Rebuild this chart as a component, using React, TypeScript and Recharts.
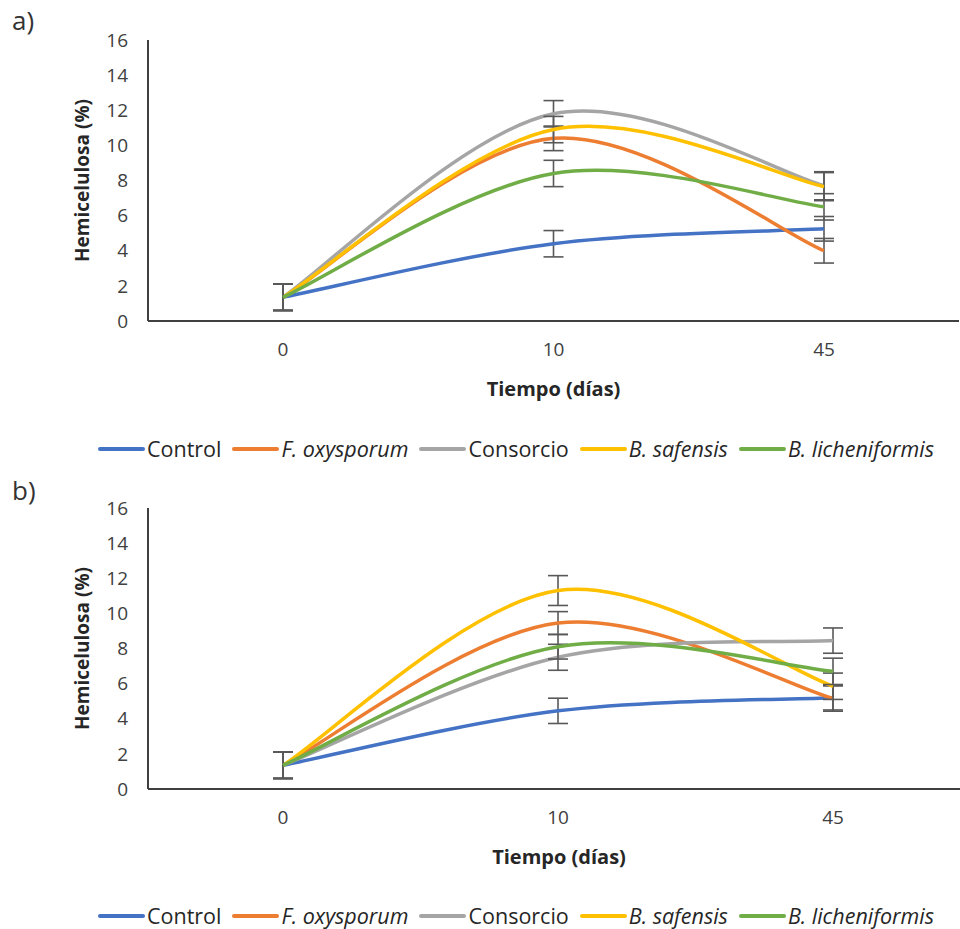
import React from 'react';
import { LineChart, Line, XAxis, YAxis, ErrorBar, Label } from 'recharts';

// tiempos (días)
const dias = ['0', '10', '45'];
const yTicks = [0, 2, 4, 6, 8, 10, 12, 14, 16];

// a)
const controlA = [1.35, 4.4, 5.25];
const foxyA = [1.35, 10.4, 4.0];
const consorcioA = [1.35, 11.8, 7.7];
const safensisA = [1.35, 10.9, 7.65];
const licheniA = [1.35, 8.4, 6.5];
const errControlA = [0.75, 0.75, 0.7];
const errFoxyA = [0.75, 0.7, 0.7];
const errConsorcioA = [0.75, 0.75, 0.8];
const errSafensisA = [0.75, 0.75, 0.8];
const errLicheniA = [0.75, 0.75, 0.75];

// b)
const controlB = [1.35, 4.45, 5.2];
const foxyB = [1.35, 9.45, 5.15];
const consorcioB = [1.35, 7.5, 8.45];
const safensisB = [1.35, 11.3, 5.85];
const licheniB = [1.35, 8.1, 6.7];
const errControlB = [0.75, 0.72, 0.7];
const errFoxyB = [0.75, 0.65, 0.72];
const errConsorcioB = [0.75, 0.74, 0.72];
const errSafensisB = [0.75, 0.85, 0.75];
const errLicheniB = [0.75, 0.7, 0.75];

const series = [
  { key: 'control', name: 'Control', color: '#4472C4', italic: false },
  { key: 'foxy', name: 'F. oxysporum', color: '#ED7D31', italic: true },
  { key: 'consorcio', name: 'Consorcio', color: '#A5A5A5', italic: false },
  { key: 'safensis', name: 'B. safensis', color: '#FFC000', italic: true },
  { key: 'licheni', name: 'B. licheniformis', color: '#70AD47', italic: true },
];

const dataA = dias.map((d, i) => ({
  dia: d,
  control: controlA[i], foxy: foxyA[i], consorcio: consorcioA[i], safensis: safensisA[i], licheni: licheniA[i],
  e_control: errControlA[i], e_foxy: errFoxyA[i], e_consorcio: errConsorcioA[i], e_safensis: errSafensisA[i], e_licheni: errLicheniA[i],
}));

const dataB = dias.map((d, i) => ({
  dia: d,
  control: controlB[i], foxy: foxyB[i], consorcio: consorcioB[i], safensis: safensisB[i], licheni: licheniB[i],
  e_control: errControlB[i], e_foxy: errFoxyB[i], e_consorcio: errConsorcioB[i], e_safensis: errSafensisB[i], e_licheni: errLicheniB[i],
}));

// excel-like smoothed line (catmull-rom style bezier)
function excelCurve(context: any) {
  let pts: number[][] = [];
  return {
    areaStart() {},
    areaEnd() {},
    lineStart() { pts = []; },
    point(x: number, y: number) { pts.push([+x, +y]); },
    lineEnd() {
      const n = pts.length;
      if (!n) return;
      context.moveTo(pts[0][0], pts[0][1]);
      for (let i = 0; i < n - 1; i++) {
        const p0 = pts[Math.max(i - 1, 0)];
        const p1 = pts[i];
        const p2 = pts[i + 1];
        const p3 = pts[Math.min(i + 2, n - 1)];
        context.bezierCurveTo(
          p1[0] + (p2[0] - p0[0]) / 6, p1[1] + (p2[1] - p0[1]) / 6,
          p2[0] - (p3[0] - p1[0]) / 6, p2[1] - (p3[1] - p1[1]) / 6,
          p2[0], p2[1],
        );
      }
    },
  };
}

const FONT = '"Open Sans", sans-serif';

function Leyenda({ top }: { top: number }) {
  return (
    <div style={{ position: 'absolute', top, left: 98, display: 'flex', alignItems: 'center', fontFamily: FONT, fontSize: 21.5, color: '#262626', whiteSpace: 'nowrap' }}>
      {series.map((s) => (
        <div key={s.key} style={{ display: 'flex', alignItems: 'center', marginRight: 11 }}>
          <span style={{ display: 'inline-block', width: 47, height: 4, background: s.color, borderRadius: 2 }} />
          <span style={{ marginLeft: 2, fontStyle: s.italic ? 'italic' : 'normal' }}>{s.name}</span>
        </div>
      ))}
    </div>
  );
}

function Panel({ data, top, width, right, padRight, letter, letterTop, legendTop }: any) {
  return (
    <>
      <div style={{ position: 'absolute', top: letterTop, left: 12, fontFamily: FONT, fontSize: 26, color: '#333' }}>{letter}</div>
      <div style={{ position: 'absolute', top, left: 0 }}>
        <LineChart width={width} height={420} data={data} margin={{ top: 40, right, bottom: 19, left: 58 }}>
          <XAxis
            dataKey="dia"
            padding={{ left: 135, right: padRight }}
            axisLine={{ stroke: '#404040', strokeWidth: 2 }}
            tickLine={false}
            tickSize={0}
            tickMargin={22}
            height={80}
            tick={{ fontSize: 19, fill: '#404040', fontFamily: FONT }}
          >
            <Label value="Tiempo (días)" position="insideBottom" offset={5} style={{ fontSize: 20, fontWeight: 700, fill: '#262626', fontFamily: FONT }} />
          </XAxis>
          <YAxis
            domain={[0, 16]}
            ticks={yTicks}
            width={90}
            axisLine={{ stroke: '#404040', strokeWidth: 2 }}
            tickLine={false}
            tickSize={0}
            tickMargin={20}
            tick={{ fontSize: 19, fill: '#404040', fontFamily: FONT }}
          >
            <Label value="Hemicelulosa (%)" angle={-90} position="insideLeft" offset={24} style={{ textAnchor: 'middle', fontSize: 19, fontWeight: 700, fill: '#262626', fontFamily: FONT }} />
          </YAxis>
          {series.map((s) => (
            <Line
              key={s.key}
              type={excelCurve as any}
              dataKey={s.key}
              name={s.name}
              stroke={s.color}
              strokeWidth={3.5}
              dot={false}
              activeDot={false}
              isAnimationActive={false}
            >
              <ErrorBar dataKey={`e_${s.key}`} width={10} stroke="#595959" strokeWidth={1.6} />
            </Line>
          ))}
        </LineChart>
      </div>
      <Leyenda top={legendTop} />
    </>
  );
}

export default function App() {
  return (
    <div style={{ position: 'absolute', top: 0, left: 0, width: 960, height: 929, overflow: 'hidden', background: '#fff' }}>
      <Panel data={dataA} top={0} width={960} right={1} padRight={135} letter="a)" letterTop={2} legendTop={434} />
      <Panel data={dataB} top={468} width={975} right={5} padRight={137} letter="b)" letterTop={472} legendTop={901} />
    </div>
  );
}
